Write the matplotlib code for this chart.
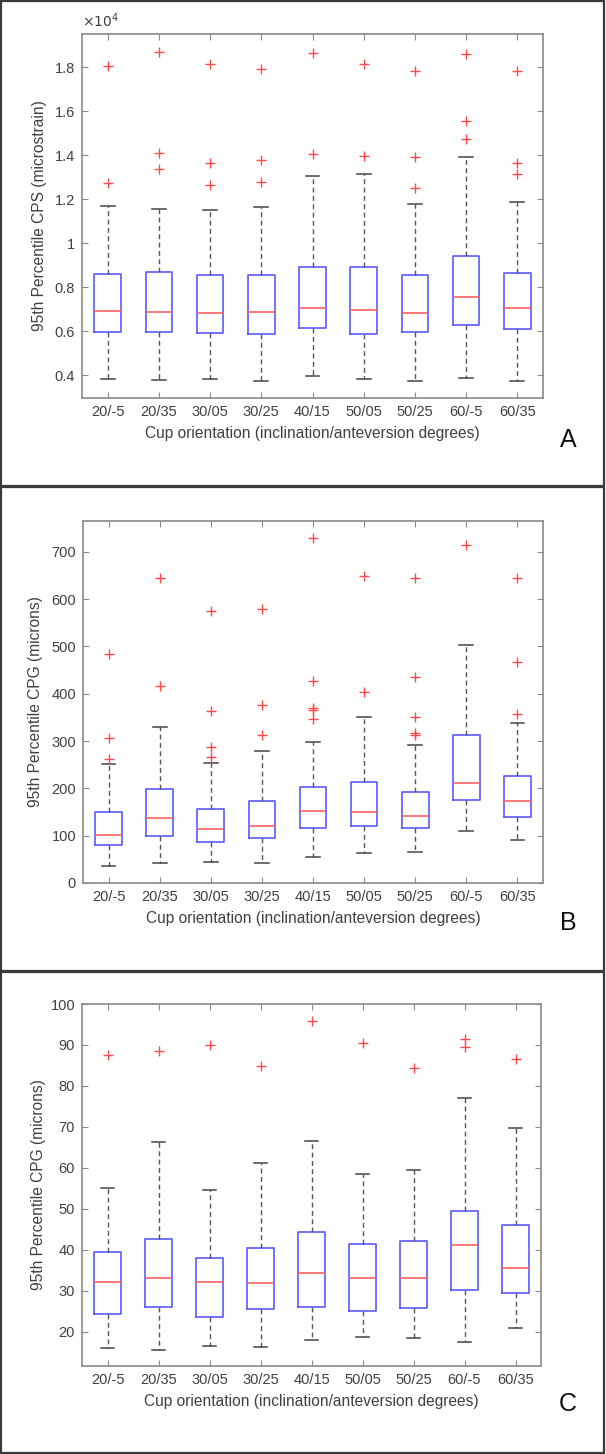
import matplotlib
matplotlib.use("Agg")
import matplotlib.pyplot as plt
from matplotlib.patches import Rectangle
from matplotlib.ticker import FuncFormatter

plt.rcParams['font.family'] = ['Liberation Sans', 'DejaVu Sans']

categories = ["20/-5", "20/35", "30/05", "30/25", "40/15", "50/05", "50/25", "60/-5", "60/35"]

# Panel A: 95th percentile CPS (microstrain)
a_q1 = [5950, 5950, 5900, 5870, 6150, 5880, 5950, 6260, 6110]
a_med = [6900, 6890, 6840, 6880, 7070, 6980, 6840, 7570, 7060]
a_q3 = [8600, 8700, 8550, 8550, 8930, 8890, 8560, 9390, 8620]
a_lo = [3820, 3760, 3820, 3740, 3950, 3820, 3740, 3880, 3740]
a_hi = [11670, 11530, 11490, 11640, 13070, 13120, 11770, 13900, 11870]
a_out = [[18040, 12710], [18670, 14100, 13380], [18140, 13660, 12620],
         [17890, 13780, 12790], [18630, 14040], [18120, 13960],
         [17830, 13920, 12520], [18600, 15560, 14710], [17830, 13650, 13120]]

# Panel B: 95th percentile CPG (microns)
b_q1 = [80, 99, 86, 95, 117, 121, 116, 175, 139]
b_med = [101, 137, 114, 119.5, 152, 150, 141, 212, 173]
b_q3 = [149, 199, 156, 173, 203, 214, 192.5, 312, 226]
b_lo = [35, 41.5, 43.6, 41.5, 55.5, 62.6, 65.4, 109, 90.7]
b_hi = [251, 329.5, 253.6, 279, 298, 350.6, 291, 502, 339]
b_out = [[483, 306, 262], [645, 416], [574, 363, 288, 266], [579, 377, 312],
         [729, 427, 370, 366, 346], [649, 403], [645, 436, 351, 317, 313],
         [715], [645, 467, 358]]

# Panel C: 95th percentile CPG (microns)
c_q1 = [24.3, 26.1, 23.6, 25.6, 26.2, 25.1, 25.9, 30.2, 29.5]
c_med = [32.3, 33.1, 32.1, 32.0, 34.3, 33.1, 33.1, 41.1, 35.6]
c_q3 = [39.4, 42.7, 38.0, 40.4, 44.3, 41.5, 42.3, 49.5, 46.2]
c_lo = [16.1, 15.6, 16.7, 16.4, 18.0, 18.7, 18.5, 17.6, 20.9]
c_hi = [55.1, 66.4, 54.6, 61.2, 66.6, 58.5, 59.5, 77.0, 69.8]
c_out = [[87.6], [88.6], [90.0], [84.9], [95.9], [90.5], [84.5], [91.5, 89.6], [86.7]]

xlabel = "Cup orientation (inclination/anteversion degrees)"

W, H = 606, 1454
fig = plt.figure(figsize=(W / 100, H / 100), dpi=100)

def fx(px):
    return px / W

def fy(py):
    return 1 - py / H

panels = [
    dict(q1=a_q1, med=a_med, q3=a_q3, lo=a_lo, hi=a_hi, out=a_out,
         box=(82, 34, 543, 398), ylim=(2960, 19500), yticks=[4000, 6000, 8000, 10000, 12000, 14000, 16000, 18000],
         ylabel="95th Percentile CPS (microstrain)", letter="A", letter_y=440, scale=1e4, ylab_x=47),
    dict(q1=b_q1, med=b_med, q3=b_q3, lo=b_lo, hi=b_hi, out=b_out,
         box=(83, 521, 543, 883), ylim=(0, 765), yticks=[0, 100, 200, 300, 400, 500, 600, 700],
         ylabel="95th Percentile CPG (microns)", letter="B", letter_y=923, scale=None, ylab_x=43),
    dict(q1=c_q1, med=c_med, q3=c_q3, lo=c_lo, hi=c_hi, out=c_out,
         box=(82, 1004, 541, 1366), ylim=(11.7, 100), yticks=[20, 30, 40, 50, 60, 70, 80, 90, 100],
         ylabel="95th Percentile CPG (microns)", letter="C", letter_y=1404, scale=None, ylab_x=46),
]

tick_color = '#404040'
spine_color = '#8a8a8a'

for p in panels:
    l, t, r, b = p['box']
    ax = fig.add_axes([fx(l), fy(b), fx(r) - fx(l), (b - t) / H])
    stats = []
    for i, cat in enumerate(categories):
        stats.append(dict(label=cat, med=p['med'][i], q1=p['q1'][i], q3=p['q3'][i],
                          whislo=p['lo'][i], whishi=p['hi'][i], fliers=p['out'][i]))
    ax.bxp(stats, positions=range(1, 10), widths=0.52, capwidths=0.27, patch_artist=False,
           boxprops=dict(color='#5a5aff', linewidth=1.2),
           medianprops=dict(color='#ff6060', linewidth=1.2),
           whiskerprops=dict(color='#555555', linewidth=1.0, linestyle=(0, (3.5, 2.5))),
           capprops=dict(color='#444444', linewidth=1.1),
           flierprops=dict(marker='+', markeredgecolor='#ff4a4a', markersize=6.5, markeredgewidth=1.0))
    ax.set_xlim(0.5, 9.5)
    ax.set_ylim(*p['ylim'])
    ax.set_yticks(p['yticks'])
    ax.set_xticks(range(1, 10))
    ax.set_xticklabels(categories)
    if p['scale']:
        s = p['scale']
        ax.yaxis.set_major_formatter(FuncFormatter(lambda v, pos, s=s: '%g' % round(v / s, 3)))
        ax.text(0.0, 1.012, r'$\times10^{4}$', transform=ax.transAxes, fontsize=10,
                color=tick_color, ha='left', va='bottom')
    ax.tick_params(direction='in', length=4, width=0.8, colors=spine_color,
                   labelcolor=tick_color, labelsize=10.5, top=True, right=True, pad=5)
    for sp in ax.spines.values():
        sp.set_color(spine_color)
        sp.set_linewidth(1.2)
    ax.set_ylabel(p['ylabel'], fontsize=11.2, color=tick_color)
    ax.yaxis.set_label_coords((p['ylab_x'] - l) / (r - l), 0.5)
    ax.set_xlabel(xlabel, fontsize=11.2, color=tick_color, labelpad=5)
    fig.text(fx(568), fy(p['letter_y']), p['letter'], fontsize=18, ha='center', va='center', color='#111111')

# panel frames
for (top, bot) in [(1, 486), (487, 971), (972, 1453)]:
    fig.patches.append(Rectangle((fx(1), fy(bot)), fx(603), (bot - top) / H,
                                 transform=fig.transFigure, fill=False,
                                 edgecolor='#3a3a3a', linewidth=1.6))

fig.savefig("out.png", dpi=100)
